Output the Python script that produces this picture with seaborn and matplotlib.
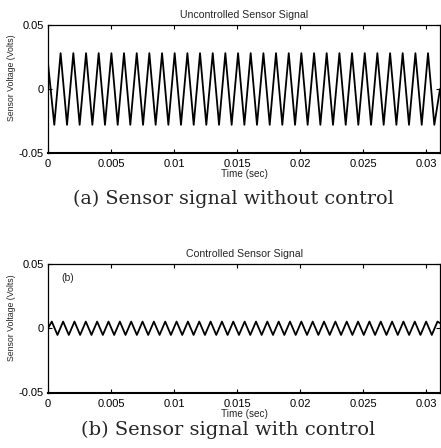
import pandas as pd
import seaborn as sns
import matplotlib.pyplot as plt

# extremos (tiempo en s, tensión en V)
t_uncontrolled = [0.0, 0.00050, 0.00100, 0.00151, 0.00201, 0.00251, 0.00302, 0.00352, 0.00402,
                  0.00452, 0.00503, 0.00553, 0.00603, 0.00653, 0.00704, 0.00754, 0.00804,
                  0.00854, 0.00905, 0.00955, 0.01005, 0.01055, 0.01106, 0.01156, 0.01206,
                  0.01256, 0.01307, 0.01357, 0.01407, 0.01457, 0.01508, 0.01558, 0.01608,
                  0.01658, 0.01709, 0.01759, 0.01809, 0.01859, 0.01910, 0.01960, 0.02010,
                  0.02060, 0.02111, 0.02161, 0.02211, 0.02261, 0.02312, 0.02362, 0.02412,
                  0.02462, 0.02513, 0.02563, 0.02613, 0.02663, 0.02714, 0.02764, 0.02814,
                  0.02864, 0.02915, 0.02965, 0.03015, 0.03065, 0.03110]
v_uncontrolled = [0.020, -0.028, 0.028, -0.028, 0.028, -0.028, 0.028, -0.028, 0.028,
                  -0.028, 0.028, -0.028, 0.028, -0.028, 0.028, -0.028, 0.028,
                  -0.028, 0.028, -0.028, 0.028, -0.028, 0.028, -0.028, 0.028,
                  -0.028, 0.028, -0.028, 0.028, -0.028, 0.028, -0.028, 0.028,
                  -0.028, 0.028, -0.028, 0.028, -0.028, 0.028, -0.028, 0.028,
                  -0.028, 0.028, -0.028, 0.028, -0.028, 0.028, -0.028, 0.028,
                  -0.028, 0.028, -0.028, 0.028, -0.028, 0.028, -0.028, 0.028,
                  -0.028, 0.028, -0.028, 0.028, -0.028, 0.000]

t_controlled = [0.0, 0.0003, 0.00075, 0.0012, 0.00165, 0.0021, 0.00255, 0.0030, 0.00345,
                0.0039, 0.00435, 0.0048, 0.00525, 0.0057, 0.00615, 0.0066, 0.00705,
                0.0075, 0.00795, 0.0084, 0.00885, 0.0093, 0.00975, 0.0102, 0.01065,
                0.0111, 0.01155, 0.0120, 0.01245, 0.0129, 0.01335, 0.0138, 0.01425,
                0.0147, 0.01515, 0.0156, 0.01605, 0.0165, 0.01695, 0.0174, 0.01785,
                0.0183, 0.01875, 0.0192, 0.01965, 0.0201, 0.02055, 0.0210, 0.02145,
                0.0219, 0.02235, 0.0228, 0.02325, 0.0237, 0.02415, 0.0246, 0.02505,
                0.0255, 0.02595, 0.0264, 0.02685, 0.0273, 0.02775, 0.0282, 0.02865,
                0.0291, 0.02955, 0.0300, 0.03045, 0.0309, 0.0311]
v_controlled = [0.0, 0.0052, -0.0052, 0.0052, -0.0052, 0.0052, -0.0052, 0.0052, -0.0052,
                0.0052, -0.0052, 0.0052, -0.0052, 0.0052, -0.0052, 0.0052, -0.0052,
                0.0052, -0.0052, 0.0052, -0.0052, 0.0052, -0.0052, 0.0052, -0.0052,
                0.0052, -0.0052, 0.0052, -0.0052, 0.0052, -0.0052, 0.0052, -0.0052,
                0.0052, -0.0052, 0.0052, -0.0052, 0.0052, -0.0052, 0.0052, -0.0052,
                0.0052, -0.0052, 0.0052, -0.0052, 0.0052, -0.0052, 0.0052, -0.0052,
                0.0052, -0.0052, 0.0052, -0.0052, 0.0052, -0.0052, 0.0052, -0.0052,
                0.0052, -0.0052, 0.0052, -0.0052, 0.0052, -0.0052, 0.0052, -0.0052,
                0.0052, -0.0052, 0.0052, -0.0052, 0.0052, 0.0040]

x_ticks = [0, 0.005, 0.01, 0.015, 0.02, 0.025, 0.03]
x_labels = ['0', '0.005', '0.01', '0.015', '0.02', '0.025', '0.03']
y_ticks = [-0.05, 0, 0.05]
y_labels = ['-0.05', '0', '0.05']

titles = ['Uncontrolled Sensor Signal', 'Controlled Sensor Signal']
captions = ['(a) Sensor signal without control', '(b) Sensor signal with control']

sns.set_style("ticks")
plt.rcParams['font.family'] = ['Liberation Sans', 'DejaVu Sans']

fig = plt.figure(figsize=(4.41, 4.48), dpi=100)
ax_a = fig.add_axes([48 / 441, 1 - 153 / 448, 392 / 441, 128 / 448])
ax_b = fig.add_axes([48 / 441, 1 - 392.5 / 448, 392 / 441, 128.5 / 448])

panels = [(ax_a, t_uncontrolled, v_uncontrolled), (ax_b, t_controlled, v_controlled)]
for i, (ax, t, v) in enumerate(panels):
    df = pd.DataFrame({'t': t, 'v': v})
    sns.lineplot(data=df, x='t', y='v', ax=ax, color='black', linewidth=1.3,
                 estimator=None, sort=False)
    ax.set_xlim(0, 0.0311)
    ax.set_ylim(-0.05, 0.05)
    ax.set_xticks(x_ticks)
    ax.set_xticklabels(x_labels)
    ax.set_yticks(y_ticks)
    ax.set_yticklabels(y_labels)
    ax.tick_params(direction='in', top=True, right=True, length=3, width=0.8,
                   labelsize=8, pad=3, colors='black')
    ax.tick_params(axis='x', pad=4.5)
    for s in ax.spines.values():
        s.set_color('black')
        s.set_linewidth(0.9)
    ax.spines['bottom'].set_linewidth(1.5)
    ax.set_title(titles[i], fontsize=7.6, pad=5)
    ax.set_xlabel('Time (sec)', fontsize=7.2, labelpad=0)
    ax.set_ylabel('Sensor Voltage (Volts)', fontsize=6.3)
    ax.yaxis.set_label_coords(-0.082, 0.585)

ax_b.text(0.035, 0.89, '(b)', transform=ax_b.transAxes, fontsize=7.5, va='center')

fig.text(233 / 441, 1 - 199 / 448, captions[0], ha='center', va='center',
         fontsize=13.8, family=['DejaVu Serif'])
fig.text(228 / 441, 1 - 430 / 448, captions[1], ha='center', va='center',
         fontsize=14.0, family=['DejaVu Serif'])

fig.savefig('out.png', dpi=100)
